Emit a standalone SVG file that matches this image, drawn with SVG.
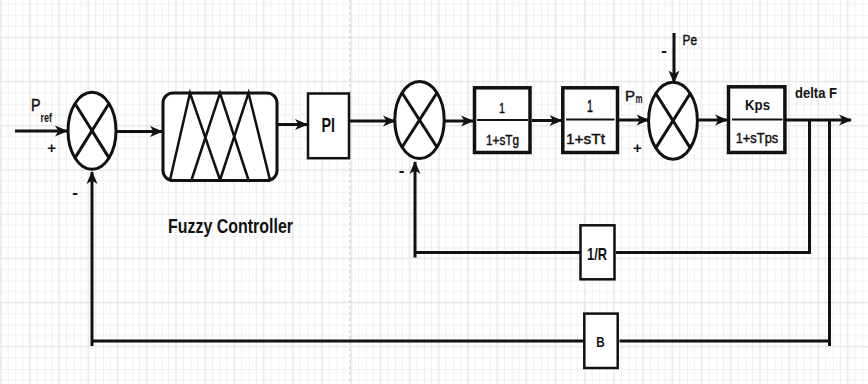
<svg xmlns="http://www.w3.org/2000/svg" width="868" height="384" viewBox="0 0 868 384">
  <style>
    .blk { fill: #ffffff; stroke: #111111; }
    .sum { fill: #ffffff; stroke: #111111; stroke-width: 3; }
    .x { stroke: #111111; stroke-width: 3; fill: none; }
    .wire { fill: none; stroke: #111111; stroke-width: 3; }
    .frac { stroke: #111111; stroke-width: 2; }
    .t { font-family: "Liberation Sans", Arial, sans-serif; fill: #111111; }
    .b { font-weight: bold; }
    .s { stroke: #111111; stroke-width: 0.45; }
    .mid { text-anchor: middle; }
  </style>
  <defs>
    <pattern id="grid" width="29.2" height="44.2" patternUnits="userSpaceOnUse" x="-13.8" y="15.3">
      <g stroke="#f0f0f0" stroke-width="1">
        <line x1="0.5" y1="0" x2="0.5" y2="44.2"/>
        <line x1="7.3" y1="0" x2="7.3" y2="44.2"/>
        <line x1="21.9" y1="0" x2="21.9" y2="44.2"/>
        <line x1="0" y1="0.5" x2="29.2" y2="0.5"/>
        <line x1="0" y1="11.05" x2="29.2" y2="11.05"/>
        <line x1="0" y1="33.15" x2="29.2" y2="33.15"/>
      </g>
      <g stroke="#e2e2e2" stroke-width="1.2">
        <line x1="14.6" y1="0" x2="14.6" y2="44.2"/>
        <line x1="0" y1="22.1" x2="29.2" y2="22.1"/>
      </g>
    </pattern>
    <marker id="arr" markerUnits="userSpaceOnUse" markerWidth="14" markerHeight="12" refX="12" refY="6" orient="auto" viewBox="0 0 14 12">
      <path d="M0,0.5 L13,6 L0,11.5 L3.5,6 z" fill="#111111"/>
    </marker>
  </defs>

  <g id="background">
    <rect x="0" y="0" width="868" height="384" fill="#ffffff"/>
    <rect x="0" y="0" width="868" height="384" fill="url(#grid)"/>
    <line x1="350" y1="0" x2="350" y2="384" stroke="#c9c9c9" stroke-width="1" stroke-dasharray="3,3"/>
  </g>

  <g id="connectors">
    <line class="wire" x1="15" y1="131" x2="67" y2="131" marker-end="url(#arr)"/>
    <line class="wire" x1="117" y1="131.5" x2="162" y2="131.5" marker-end="url(#arr)"/>
    <line class="wire" x1="278" y1="124.5" x2="307" y2="124.5" marker-end="url(#arr)"/>
    <line class="wire" x1="350" y1="121" x2="395" y2="121" marker-end="url(#arr)"/>
    <line class="wire" x1="445" y1="121" x2="473" y2="121" marker-end="url(#arr)"/>
    <line class="wire" x1="532" y1="120.5" x2="561.5" y2="120.5" marker-end="url(#arr)"/>
    <line class="wire" x1="619" y1="120" x2="648.5" y2="120" marker-end="url(#arr)"/>
    <line class="wire" x1="698" y1="120" x2="727" y2="120" marker-end="url(#arr)"/>
    <line class="wire" x1="786" y1="120" x2="851" y2="120" marker-end="url(#arr)"/>
    <line class="wire" x1="674" y1="33" x2="674" y2="82.5" marker-end="url(#arr)"/>
    <!-- 1/R feedback -->
    <path class="wire" d="M809.5,120 V252.5 H616"/>
    <path class="wire" d="M580,252.5 H415"/>
    <path class="wire" d="M415,257.5 V162" marker-end="url(#arr)"/>
    <!-- B feedback -->
    <path class="wire" d="M829.5,120 V346"/>
    <path class="wire" d="M829.5,341 H619.5"/>
    <path class="wire" d="M583.5,341 H92"/>
    <path class="wire" d="M92,346 V172" marker-end="url(#arr)"/>
  </g>

  <g id="sum1">
    <ellipse class="sum" cx="92" cy="130.7" rx="24" ry="38.5"/>
    <line class="x" x1="75" y1="103.5" x2="109" y2="157.9"/>
    <line class="x" x1="109" y1="103.5" x2="75" y2="157.9"/>
  </g>

  <g id="fuzzy">
    <rect class="blk" x="163" y="93" width="114" height="87.5" rx="10" ry="10" stroke-width="3"/>
    <g stroke="#111111" stroke-width="2.5" fill="none" stroke-linejoin="miter">
      <polyline points="170,180 190,93 220,180"/>
      <polyline points="191.5,180 220,93 248.5,180"/>
      <polyline points="220,180 248.5,93 270,180"/>
    </g>
  </g>

  <g id="pi">
    <rect class="blk" x="308" y="93.5" width="41" height="64.7" stroke-width="2.5"/>
  </g>

  <g id="sum2">
    <ellipse class="sum" cx="419.5" cy="120" rx="24.7" ry="38.5"/>
    <line class="x" x1="402" y1="92.8" x2="437" y2="147.2"/>
    <line class="x" x1="437" y1="92.8" x2="402" y2="147.2"/>
  </g>

  <g id="governor">
    <rect class="blk" x="474.5" y="87.8" width="55.5" height="64.7" stroke-width="3.5"/>
    <line class="frac" x1="477" y1="120" x2="528" y2="120"/>
  </g>

  <g id="turbine">
    <rect class="blk" x="562.8" y="87.8" width="54.7" height="64.7" stroke-width="3.5"/>
    <line class="frac" x1="566" y1="119.5" x2="614.5" y2="119.5"/>
  </g>

  <g id="sum3">
    <ellipse class="sum" cx="673" cy="120.7" rx="24.4" ry="38.5"/>
    <line class="x" x1="655.8" y1="93.5" x2="690.2" y2="147.9"/>
    <line class="x" x1="690.2" y1="93.5" x2="655.8" y2="147.9"/>
  </g>

  <g id="power-system">
    <rect class="blk" x="728.5" y="86.8" width="56.4" height="65.7" stroke-width="3.5"/>
    <line class="frac" x1="732" y1="119.5" x2="782.5" y2="119.5"/>
  </g>

  <g id="droop">
    <rect class="blk" x="580.5" y="225.3" width="34" height="54" stroke-width="2.5"/>
  </g>

  <g id="bias">
    <rect class="blk" x="584.3" y="313.6" width="33.4" height="54.4" stroke-width="2.5"/>
  </g>

  <g id="labels">
    <text class="t s" x="31" y="110.5" font-size="16" textLength="9.5" lengthAdjust="spacingAndGlyphs">P</text>
    <text class="t b" x="40.5" y="121.5" font-size="12" textLength="11.5" lengthAdjust="spacingAndGlyphs">ref</text>
    <text class="t b mid" x="51.7" y="153" font-size="15">+</text>
    <text class="t b mid" x="75" y="198" font-size="17">-</text>
    <text class="t b" x="168" y="233" font-size="21" textLength="125" lengthAdjust="spacingAndGlyphs">Fuzzy Controller</text>
    <text class="t b" x="321.5" y="131.7" font-size="20" textLength="13.5" lengthAdjust="spacingAndGlyphs">PI</text>
    <text class="t b mid" x="401.7" y="176" font-size="17">-</text>
    <text class="t s mid" x="502" y="113.3" font-size="15" textLength="6" lengthAdjust="spacingAndGlyphs">1</text>
    <text class="t s" x="486" y="144.5" font-size="14.5" textLength="33" lengthAdjust="spacingAndGlyphs">1+sTg</text>
    <text class="t s mid" x="590" y="112" font-size="16" textLength="6" lengthAdjust="spacingAndGlyphs">1</text>
    <text class="t s" x="566" y="144.3" font-size="15" textLength="39" lengthAdjust="spacingAndGlyphs">1+sTt</text>
    <text class="t s" x="625" y="100.5" font-size="15" textLength="10" lengthAdjust="spacingAndGlyphs">P</text>
    <text class="t b" x="635.5" y="102.5" font-size="12" textLength="7" lengthAdjust="spacingAndGlyphs">m</text>
    <text class="t b mid" x="637.3" y="153" font-size="15">+</text>
    <text class="t s" x="682.5" y="44.5" font-size="15" textLength="14.5" lengthAdjust="spacingAndGlyphs">Pe</text>
    <text class="t b mid" x="664" y="55.5" font-size="17">-</text>
    <text class="t b" x="745" y="110" font-size="15" textLength="25" lengthAdjust="spacingAndGlyphs">Kps</text>
    <text class="t s" x="735.7" y="142.5" font-size="15" textLength="42.6" lengthAdjust="spacingAndGlyphs">1+sTps</text>
    <text class="t b" x="795" y="98.3" font-size="14" textLength="42" lengthAdjust="spacingAndGlyphs">delta F</text>
    <text class="t b" x="587" y="260" font-size="17" textLength="20" lengthAdjust="spacingAndGlyphs">1/R</text>
    <text class="t b" x="596.3" y="346.7" font-size="15" textLength="8.4" lengthAdjust="spacingAndGlyphs">B</text>
  </g>
</svg>
